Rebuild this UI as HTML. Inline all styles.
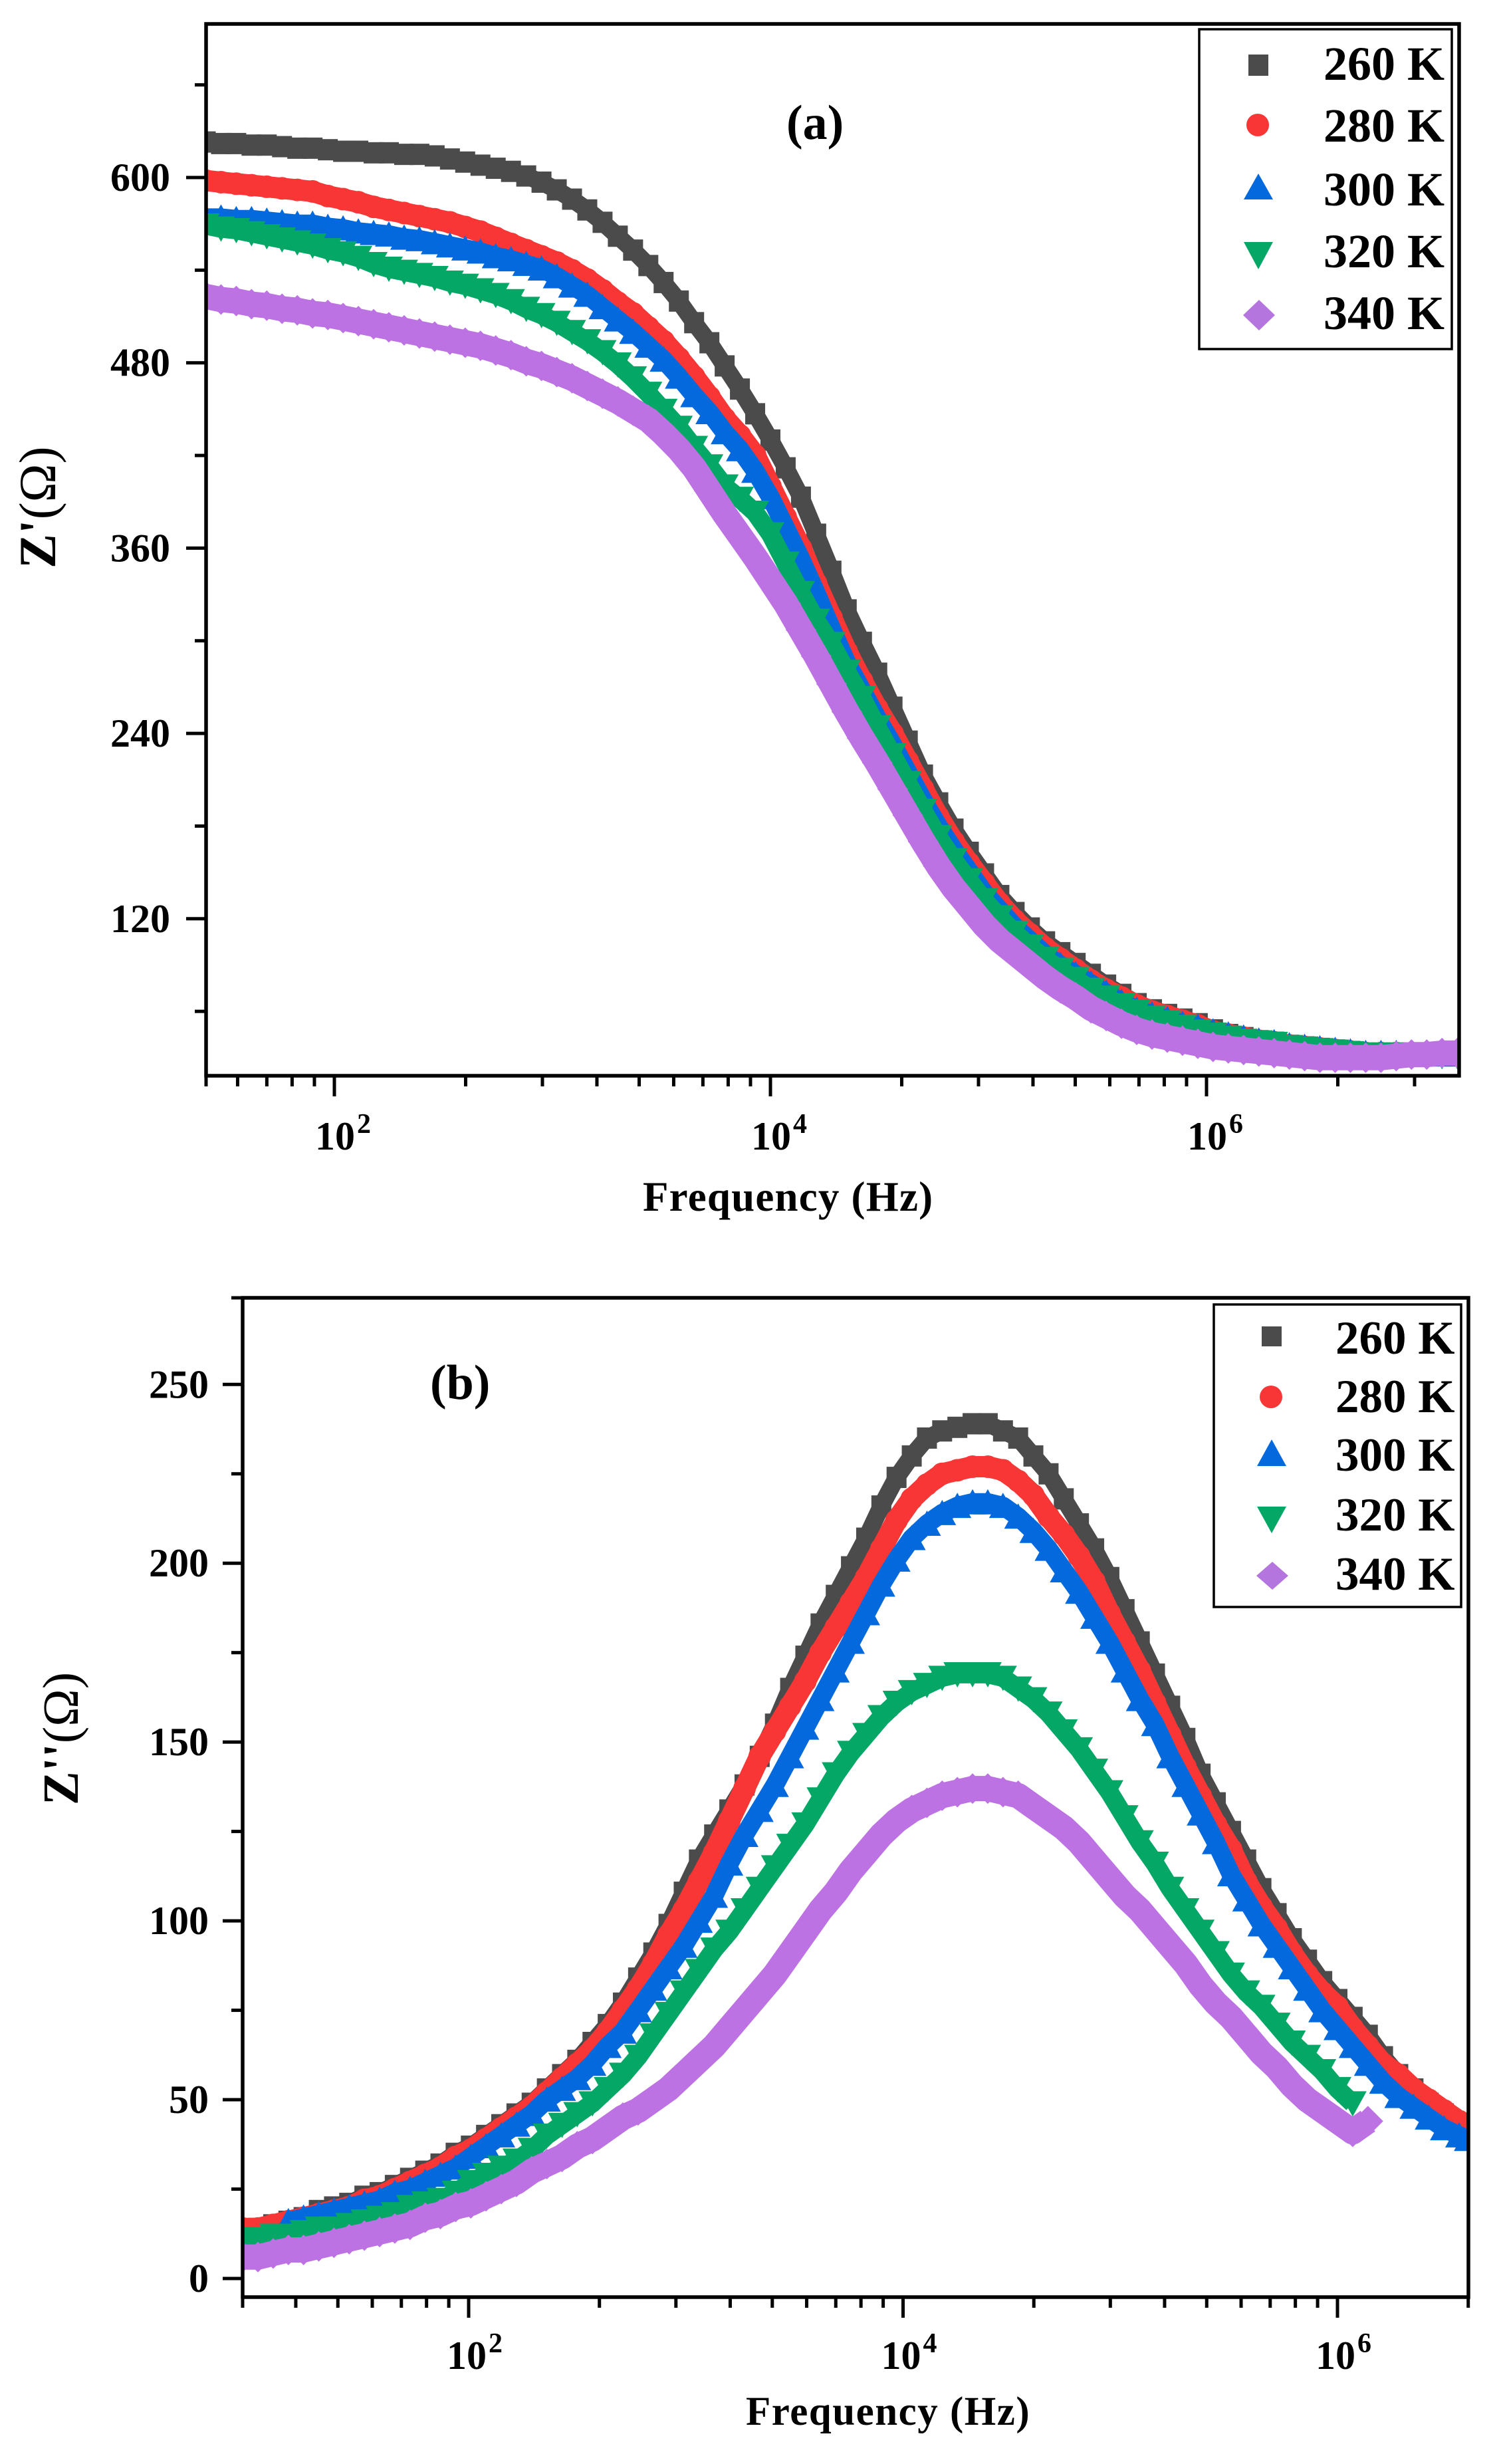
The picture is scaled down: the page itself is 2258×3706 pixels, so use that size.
<!DOCTYPE html>
<html lang="en">
<head>
<meta charset="utf-8">
<title>Z' and Z'' versus frequency</title>
<style>
html,body{margin:0;padding:0;background:#fff}
svg{display:block}
text{font-family:"Liberation Serif",serif;font-weight:bold;fill:#000}
</style>
</head>
<body>
<svg id="fig" xmlns="http://www.w3.org/2000/svg" width="2258" height="3706" viewBox="0 0 2258 3706">
  <rect width="2258" height="3706" fill="#fff"/>
  <defs>
    <clipPath id="clipA"><rect x="310" y="36" width="1885" height="1582"/></clipPath>
    <clipPath id="clipB"><rect x="365" y="1952" width="1844" height="1503"/></clipPath>
  </defs>

  <g id="panelA">
    <g id="marksA" clip-path="url(#clipA)"></g>
    <rect x="310" y="36" width="1885" height="1582" fill="none" stroke="#000" stroke-width="5.5"/>
    <g id="axesA"></g>
    <text x="1183" y="209" font-size="74">(a)</text>
    <text transform="translate(83 855) rotate(-90)" font-size="78">Z'<tspan font-weight="normal">(Ω)</tspan></text>
    <text x="967" y="1821" font-size="63" letter-spacing="1.2">Frequency (Hz)</text>
    <g>
      <rect x="1804" y="44" width="380" height="481" fill="#fff" stroke="#000" stroke-width="3.5"/>
      <rect x="1878" y="82" width="30" height="32" fill="#4b4b4b"/>
      <text x="1991" y="120" font-size="72">260 K</text>
      <circle cx="1892" cy="188" r="17" fill="#f93636"/>
      <text x="1991" y="213" font-size="72">280 K</text>
      <polygon points="1893,261 1915,300 1871,300" fill="#0469dd"/>
      <text x="1991" y="309" font-size="72">300 K</text>
      <polygon points="1871,364 1915,364 1893,405" fill="#04a765"/>
      <text x="1991" y="402" font-size="72">320 K</text>
      <polygon points="1894,451 1918,474 1894,497 1870,474" fill="#b476de"/>
      <text x="1991" y="495" font-size="72">340 K</text>
    </g>
  </g>

  <g id="panelB">
    <g id="marksB" clip-path="url(#clipB)"></g>
    <rect x="365" y="1952" width="1844" height="1503" fill="none" stroke="#000" stroke-width="5.5"/>
    <g id="axesB"></g>
    <text x="647" y="2104" font-size="74">(b)</text>
    <text transform="translate(117 2715) rotate(-90)" font-size="76">Z''<tspan font-weight="normal">(Ω)</tspan></text>
    <text x="1122" y="3647" font-size="61" letter-spacing="1.5">Frequency (Hz)</text>
    <g>
      <rect x="1826" y="1962" width="372" height="455" fill="#fff" stroke="#000" stroke-width="3.5"/>
      <rect x="1898" y="1995" width="30" height="30" fill="#4b4b4b"/>
      <text x="2009" y="2036" font-size="71">260 K</text>
      <circle cx="1912" cy="2101" r="17" fill="#f93636"/>
      <text x="2009" y="2124" font-size="71">280 K</text>
      <polygon points="1913,2165 1935,2205 1891,2205" fill="#0469dd"/>
      <text x="2009" y="2212" font-size="71">300 K</text>
      <polygon points="1891,2266 1935,2266 1913,2306" fill="#04a765"/>
      <text x="2009" y="2302" font-size="71">320 K</text>
      <polygon points="1914,2349 1938,2370 1914,2391 1890,2370" fill="#b476de"/>
      <text x="2009" y="2391" font-size="71">340 K</text>
    </g>
  </g>
</svg>

<script>
// ---------- panel (a) data: log10(frequency / Hz) and Z' in ohms ----------
const logFreqA = [1.41,1.48,1.55,1.62,1.69,1.76,1.83,1.90,1.97,2.04,
2.11,2.18,2.25,2.32,2.39,2.46,2.53,2.60,2.67,2.74,
2.81,2.88,2.95,3.02,3.09,3.16,3.23,3.30,3.37,3.44,
3.51,3.58,3.65,3.72,3.79,3.86,3.93,4.00,4.07,4.14,
4.21,4.28,4.35,4.42,4.49,4.56,4.63,4.70,4.77,4.84,
4.91,4.98,5.05,5.12,5.19,5.26,5.33,5.40,5.47,5.54,
5.61,5.68,5.75,5.82,5.89,5.96,6.03,6.10,6.17,6.24,
6.31,6.38,6.45,6.52,6.59,6.66,6.73,6.80,6.87,6.94,7.01,7.08,7.15];
const zReal260 = [623,622,622,621,621,620,619,619,618,617,
617,616,616,615,615,614,612,610,608,606,
604,601,597,592,586,579,571,562,553,543,
532,520,506,493,478,463,447,430,412,393,
369,345,320,299,279,257,235,213,195,178,
163,149,135,124,114,105,98,91,84,77,
71,65,61,58,55,52,48,45,43,41,
40,38,37,36,35,34,33,33,33,33,32,32,32];
const zReal280 = [598,597,596,595,594,593,592,591,588,586,
584,581,579,577,575,573,571,568,565,561,
557,553,549,545,540,534,527,519,512,503,
494,483,471,458,444,433,420,400,380,360,
337,315,293,274,256,240,222,204,186,170,
156,143,130,119,110,101,94,87,80,74,
69,64,60,57,54,51,47,45,43,41,
40,38,37,36,35,34,33,33,33,33,32,32,32];
const zReal300 = [574,574,573,573,572,571,570,570,568,567,
565,564,563,561,560,558,556,554,552,549,
547,544,541,536,530,524,516,508,500,491,
482,471,459,448,435,424,410,393,373,353,
331,308,286,268,250,233,215,197,180,165,
151,137,126,115,106,97,90,84,78,72,
66,61,58,55,52,50,47,45,43,41,
40,38,37,36,35,34,33,33,33,33,32,32,32];
const zReal320 = [569,567,566,564,562,560,558,556,553,551,
548,544,541,539,537,535,532,530,527,524,
520,515,511,506,500,494,487,479,470,460,
449,438,425,413,400,392,383,369,350,331,
313,298,280,263,244,226,208,190,173,158,
145,132,121,111,102,94,87,81,74,69,
64,60,56,53,50,47,45,43,41,40,
39,37,36,35,34,33,32,32,32,32,31,31,31];
const zReal340 = [523,521,520,518,517,515,514,512,511,509,
507,505,503,501,499,497,495,493,491,488,
485,481,478,474,470,465,460,455,449,443,
434,424,412,397,382,368,354,339,324,307,
290,272,254,237,221,204,187,170,154,140,
128,116,106,98,90,82,75,69,62,57,
52,48,45,43,41,39,37,36,35,34,
33,32,31,30,30,30,30,30,31,32,32,33,33];
const yMajorA = [120,240,360,480,600];
const yMinorA = [60,180,300,420,540,660];

// ---------- panel (b) data: log10(frequency / Hz) and Z'' in ohms ----------
const logFreqB = [0.96,1.03,1.10,1.17,1.24,1.31,1.38,1.45,1.52,1.59,
1.66,1.73,1.80,1.87,1.94,2.01,2.08,2.15,2.22,2.29,
2.36,2.43,2.50,2.57,2.64,2.71,2.78,2.85,2.92,2.99,
3.06,3.13,3.20,3.27,3.34,3.41,3.48,3.55,3.62,3.69,
3.76,3.83,3.90,3.97,4.04,4.11,4.18,4.25,4.32,4.39,
4.46,4.53,4.60,4.67,4.74,4.81,4.88,4.95,5.02,5.09,
5.16,5.23,5.30,5.37,5.44,5.51,5.58,5.65,5.72,5.79,
5.86,5.93,6.00,6.07,6.14,6.21,6.28,6.35,6.42,6.49,6.56,6.60];
const zImag260 = [13,14,15,16,17,19,20,21,23,24,
26,28,30,32,35,37,40,43,46,49,
53,57,61,66,71,77,84,91,99,108,
117,124,131,138,146,155,165,174,183,191,
199,207,216,224,230,235,237,238,239,239,
237,235,230,225,218,211,204,196,187,178,
169,160,151,141,133,125,117,109,102,95,
89,83,78,73,68,62,57,53,49,46,43,42];
const zImag280 = [14,14,15,16,17,18,19,20,22,23,
25,27,29,31,34,36,39,42,45,48,
52,56,60,64,69,75,81,88,96,103,
111,119,128,137,146,153,160,167,175,182,
189,196,204,212,218,222,225,226,227,227,
226,223,219,213,208,202,195,186,178,170,
161,152,143,135,127,120,111,104,98,91,
85,80,76,70,65,60,57,53,50,47,44,43];
const zImag300 = [null,null,null,16,17,18,19,20,21,22,
24,25,27,29,31,34,37,40,43,46,
50,53,56,60,65,69,75,81,87,93,
100,107,116,124,131,138,146,154,162,170,
178,186,194,201,207,211,214,216,217,217,
216,213,209,204,198,192,185,178,170,162,
155,146,138,130,122,113,106,99,93,87,
81,75,70,65,60,55,51,48,45,42,40,39];
const zImag320 = [11,11,12,12,13,14,14,15,16,17,
18,20,21,22,24,27,29,31,33,36,
40,43,46,49,53,57,62,68,74,80,
86,92,97,103,109,115,121,127,134,141,
147,152,157,161,164,166,168,169,169,169,
168,165,162,158,153,148,142,136,129,122,
116,109,103,97,91,85,80,76,71,66,
62,58,53,49,null,null,null,null,null,null,null,null];
const zImag340 = [6,6,7,8,8,9,10,11,12,13,
14,15,17,18,20,21,23,25,27,30,
32,34,37,39,42,45,47,50,53,57,
61,65,70,75,80,85,91,97,103,108,
114,119,124,128,131,133,135,136,137,137,
136,135,132,129,126,122,117,112,107,103,
98,93,88,82,77,73,68,63,59,54,
50,47,44,41,44,null,null,null,null,null,null,null];
const yMajorB = [0,50,100,150,200,250];
const yMinorB = [25,75,125,175,225,275];

// ---------- shared tick data ----------
const xMajorExponents = [2,4,6];
const xMinorBaseExponents = [0,2,4,6];
const xMinorMultipliers = [2,3,4,5,6,7,8,9];

// ---------- axis functions ----------
function xA(lf){return 503+(lf-2)*328;}
function yA(v){return 267+(600-v)*2.3225;}
function xB(lf){return 705+(lf-2)*326.75;}
function yB(v){return 3427-v*5.379;}

const NS='http://www.w3.org/2000/svg';
function mk(tag,parent){const e=document.createElementNS(NS,tag);parent.appendChild(e);return e;}

function addMarker(parent,shape,cx,cy,color){
  let el;
  if(shape==='square'){
    el=mk('rect',parent);
    el.setAttribute('x',cx-15);el.setAttribute('y',cy-16);
    el.setAttribute('width',30);el.setAttribute('height',32);
  }else if(shape==='circle'){
    el=mk('circle',parent);
    el.setAttribute('cx',cx);el.setAttribute('cy',cy);el.setAttribute('r',17);
  }else{
    el=mk('polygon',parent);
    let p;
    if(shape==='up')p=[[cx,cy-20],[cx+21,cy+18],[cx-21,cy+18]];
    else if(shape==='down')p=[[cx-21,cy-18],[cx+21,cy-18],[cx,cy+20]];
    else p=[[cx,cy-23],[cx+23,cy],[cx,cy+23],[cx-23,cy]];
    el.setAttribute('points',p.map(q=>q.join(',')).join(' '));
  }
  el.setAttribute('fill',color);
  
  
}

function drawSeries(parent,name,logF,vals,xf,yf,color,shape,bandWidth){
  const g=mk('g',parent);
  
  
  const pts=[];
  logF.forEach((lf,i)=>{if(vals[i]!==null)pts.push([xf(lf),yf(vals[i])]);});
  const line=mk('polyline',g);
  line.setAttribute('points',pts.map(p=>p[0].toFixed(1)+','+p[1].toFixed(1)).join(' '));
  line.setAttribute('fill','none');
  line.setAttribute('stroke',color);
  line.setAttribute('stroke-width',bandWidth);
  line.setAttribute('stroke-linejoin','round');
  
  
  pts.forEach(p=>addMarker(g,shape,p[0],p[1],color));
}

function drawAxes(parent,xf,yf,cfg){
  function tick(x1,y1,x2,y2,name){
    const t=mk('rect',parent);
    t.setAttribute('x',Math.min(x1,x2)-(x1===x2?2.5:0));
    t.setAttribute('y',Math.min(y1,y2)-(y1===y2?2.5:0));
    t.setAttribute('width',x1===x2?5:Math.abs(x2-x1));
    t.setAttribute('height',y1===y2?5:Math.abs(y2-y1));
    t.setAttribute('fill','#000');
    
    
  }
  cfg.yMajor.forEach(v=>{
    const y=yf(v);
    tick(cfg.left-30,y,cfg.left,y,'y-major-tick');
    const lab=mk('text',parent);
    lab.textContent=String(v);
    lab.setAttribute('x',cfg.yLabelRight);
    lab.setAttribute('y',y+20);
    lab.setAttribute('font-size',cfg.tickFont);
    lab.setAttribute('text-anchor','end');
    
    
  });
  cfg.yMinor.forEach(v=>{
    const y=Math.max(yf(v),cfg.top);
    tick(cfg.left-17,y,cfg.left,y,'y-minor-tick');
  });
  xMajorExponents.forEach(e=>{
    const x=xf(e);
    tick(x,cfg.bottom,x,cfg.bottom+31,'x-major-tick');
    const lab=mk('text',parent);
    lab.setAttribute('x',x+cfg.xLabelShift);
    lab.setAttribute('y',cfg.xLabelBase);
    lab.setAttribute('font-size',cfg.tickFont);
    
    
    const base=mk('tspan',lab);
    base.textContent='10';
    const sup=mk('tspan',lab);
    sup.textContent=String(e);
    sup.setAttribute('font-size',42);
    sup.setAttribute('dy',-25);
    sup.setAttribute('dx',3);
  });
  xMinorBaseExponents.forEach(e=>{
    xMinorMultipliers.forEach(m=>{
      let x=xf(e+2*Math.log10(m));
      if(x<cfg.left-6||x>cfg.right+3)return;
      x=Math.min(Math.max(x,cfg.left),cfg.right);
      tick(x,cfg.bottom,x,cfg.bottom+16,'x-minor-tick');
    });
  });
}

const mA=document.getElementById('marksA');
drawSeries(mA,'series-260k',logFreqA,zReal260,xA,yA,'#4b4b4b','square',26);
drawSeries(mA,'series-280k',logFreqA,zReal280,xA,yA,'#f93636','circle',32);
drawSeries(mA,'series-300k',logFreqA,zReal300,xA,yA,'#0469dd','up',28);
drawSeries(mA,'series-320k',logFreqA,zReal320,xA,yA,'#04a765','down',28);
drawSeries(mA,'series-340k',logFreqA,zReal340,xA,yA,'#bd72e4','diamond',38);
drawAxes(document.getElementById('axesA'),xA,yA,{left:310,right:2195,top:36,bottom:1618,
  yMajor:yMajorA,yMinor:yMinorA,yLabelRight:256,tickFont:60,xLabelShift:-29,xLabelBase:1729});

const mB=document.getElementById('marksB');
drawSeries(mB,'series-260k',logFreqB,zImag260,xB,yB,'#4b4b4b','square',26);
drawSeries(mB,'series-280k',logFreqB,zImag280,xB,yB,'#f93636','circle',32);
drawSeries(mB,'series-300k',logFreqB,zImag300,xB,yB,'#0469dd','up',28);
drawSeries(mB,'series-320k',logFreqB,zImag320,xB,yB,'#04a765','down',28);
drawSeries(mB,'series-340k',logFreqB,zImag340,xB,yB,'#bd72e4','diamond',38);
drawAxes(document.getElementById('axesB'),xB,yB,{left:365,right:2209,top:1952,bottom:3455,
  yMajor:yMajorB,yMinor:yMinorB,yLabelRight:314,tickFont:60,xLabelShift:-33,xLabelBase:3563});
</script>
</body>
</html>
